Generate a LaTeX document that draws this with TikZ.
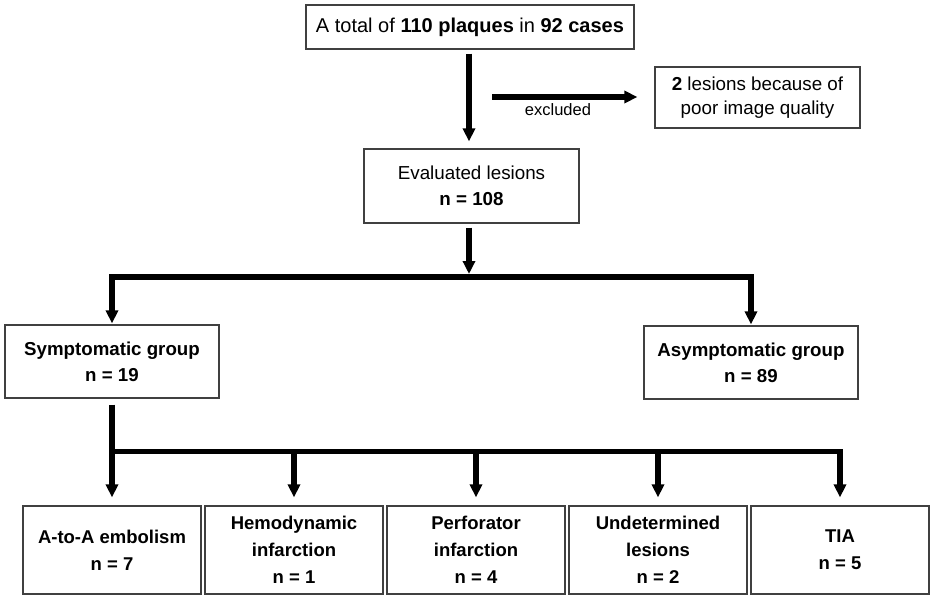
\documentclass[tikz,border=0pt]{standalone}
\usepackage{fontspec}
\setmainfont{Liberation Sans}
\usetikzlibrary{arrows.meta}
\begin{document}
\begin{tikzpicture}[x=1pt,y=-1pt,
  box/.style={draw=black!75, line width=1.2pt, rectangle, inner sep=0pt, align=center, font=\fontsize{18.8}{26}\selectfont},
  gbox/.style={box, minimum width=214pt, minimum height=73pt, font=\fontsize{18.7}{26}\selectfont\bfseries},
  sbox/.style={box, minimum width=178pt, minimum height=88pt, font=\fontsize{18.5}{27}\selectfont\bfseries},
  arr/.style={line width=5.5pt, -{Triangle[width=12pt,length=13pt]}},
  barline/.style={line width=5.5pt}]
\useasboundingbox (0,0) rectangle (935,600);
\fill[white] (0,0) rectangle (935,600);

\node[box, minimum width=328pt, minimum height=44pt, font=\fontsize{20}{24}\selectfont] (top) at (470,27) {A total of \textbf{110 plaques} in \textbf{92 cases}};
\node[box, minimum width=205pt, minimum height=61pt, font=\fontsize{18.8}{24.5}\selectfont] (excl) at (757.5,97.5) {\textbf{2} lesions because of\\poor image quality};
\node[box, minimum width=215pt, minimum height=74pt] (eval) at (471.5,186) {Evaluated lesions\\\textbf{n = 108}};
\node[gbox] (sym) at (112,361.5) {Symptomatic group\\n = 19};
\node[gbox] (asym) at (751,362.5) {Asymptomatic group\\n = 89};

\node[sbox] (b1) at (112,550) {A-to-A embolism\\n = 7};
\node[sbox] (b2) at (294,550) {Hemodynamic\\infarction\\n = 1};
\node[sbox] (b3) at (476,550) {Perforator\\infarction\\n = 4};
\node[sbox] (b4) at (658,550) {Undetermined\\lesions\\n = 2};
\node[sbox] (b5) at (840,550) {TIA\\n = 5};

\coordinate (j1) at (469,277);
\coordinate (j2) at (112,451.5);
\coordinate (x0) at (492,97);

\draw[arr, shorten <=4pt, shorten >=7pt] (top.south -| j1) -- (eval.north -| j1);
\draw[arr, shorten >=17pt] (x0) -- (x0 -| excl.west);
\node[font=\fontsize{16.5}{18}\selectfont] (exl) at (558,109.5) {excluded};

\draw[arr, shorten <=4pt, shorten >=3pt] (eval.south -| j1) -- (j1);
\draw[arr, shorten >=1pt] (j1) -| (sym.north);
\draw[arr, shorten >=1pt] (j1) -| (asym.north);

\draw[barline, shorten <=6pt] (sym.south) -- (j2);
\draw[arr, shorten >=8pt] (j2) -- (b1.north);
\draw[arr, shorten >=8pt] (j2) -| (b2.north);
\draw[arr, shorten >=8pt] (j2) -| (b3.north);
\draw[arr, shorten >=8pt] (j2) -| (b4.north);
\draw[arr, shorten >=8pt] (j2) -| (b5.north);
\end{tikzpicture}
\end{document}
